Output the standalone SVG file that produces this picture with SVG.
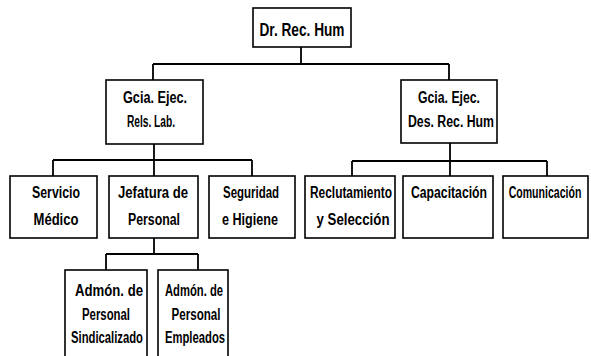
<svg xmlns="http://www.w3.org/2000/svg" width="591" height="356" viewBox="0 0 591 356">
<style>
.box{fill:#fff;stroke:#000;stroke-width:1.6}
.ln{fill:none;stroke:#000;stroke-width:1.8}
text{font-family:"Liberation Sans",Arial,sans-serif;font-weight:bold;font-size:16px;fill:#000;text-anchor:middle}
.big{font-size:18px}
</style>
<rect width="591" height="356" fill="#fff"/>
<g id="connectors">
<path class="ln" d="M301,47 V64 M153,64 H449 M153,64 V80 M449,64 V80"/>
<path class="ln" d="M154,144 V160 M53,160 H252 M53,160 V176 M154,160 V176 M252,160 V176"/>
<path class="ln" d="M450,143 V161 M352,161 H547 M352,161 V176 M450,161 V176 M547,161 V176"/>
<path class="ln" d="M154,238 V254 M106,254 H198 M106,254 V270 M198,254 V270"/>
</g>
<g id="dr-rec-hum">
<rect class="box" x="253" y="8" width="98" height="39"/>
<text class="big" x="302" y="36" textLength="85" lengthAdjust="spacingAndGlyphs">Dr. Rec. Hum</text>
</g>
<g id="gcia-rels-lab">
<rect class="box" x="106" y="80" width="97" height="64"/>
<text x="155" y="103" textLength="64" lengthAdjust="spacingAndGlyphs">Gcia. Ejec.</text>
<text x="151" y="127" textLength="48" lengthAdjust="spacingAndGlyphs">Rels. Lab.</text>
</g>
<g id="gcia-des-rec-hum">
<rect class="box" x="401" y="80" width="96" height="63"/>
<text x="449" y="103" textLength="62" lengthAdjust="spacingAndGlyphs">Gcia. Ejec.</text>
<text x="451" y="127" textLength="86" lengthAdjust="spacingAndGlyphs">Des. Rec. Hum</text>
</g>
<g id="servicio-medico">
<rect class="box" x="10" y="176" width="87" height="62"/>
<text x="56" y="198" textLength="48" lengthAdjust="spacingAndGlyphs">Servicio</text>
<text x="56" y="225" textLength="45" lengthAdjust="spacingAndGlyphs">Médico</text>
</g>
<g id="jefatura-personal">
<rect class="box" x="109" y="176" width="89" height="62"/>
<text x="153" y="198" textLength="70" lengthAdjust="spacingAndGlyphs">Jefatura de</text>
<text x="154" y="225" textLength="52" lengthAdjust="spacingAndGlyphs">Personal</text>
</g>
<g id="seguridad-higiene">
<rect class="box" x="209" y="176" width="86" height="62"/>
<text x="251" y="198" textLength="56" lengthAdjust="spacingAndGlyphs">Seguridad</text>
<text x="250" y="225" textLength="56" lengthAdjust="spacingAndGlyphs">e Higiene</text>
</g>
<g id="reclutamiento-seleccion">
<rect class="box" x="305" y="176" width="90" height="62"/>
<text x="351" y="198" textLength="82" lengthAdjust="spacingAndGlyphs">Reclutamiento</text>
<text x="353" y="225" textLength="73" lengthAdjust="spacingAndGlyphs">y Selección</text>
</g>
<g id="capacitacion">
<rect class="box" x="403" y="176" width="90" height="62"/>
<text x="449" y="198" textLength="76" lengthAdjust="spacingAndGlyphs">Capacitación</text>
</g>
<g id="comunicacion">
<rect class="box" x="503" y="176" width="85" height="62"/>
<text transform="translate(545,198) scale(0.66,1)" x="0" y="0">Comunicación</text>
</g>
<g id="admon-sindicalizado">
<rect class="box" x="65" y="270" width="82" height="95"/>
<text x="109" y="296" textLength="68" lengthAdjust="spacingAndGlyphs">Admón. de</text>
<text x="106" y="320" textLength="48" lengthAdjust="spacingAndGlyphs">Personal</text>
<text x="107" y="343" textLength="72" lengthAdjust="spacingAndGlyphs">Sindicalizado</text>
</g>
<g id="admon-empleados">
<rect class="box" x="158" y="270" width="70" height="95"/>
<text x="194" y="296" textLength="58" lengthAdjust="spacingAndGlyphs">Admón. de</text>
<text x="196" y="320" textLength="49" lengthAdjust="spacingAndGlyphs">Personal</text>
<text x="195" y="343" textLength="60" lengthAdjust="spacingAndGlyphs">Empleados</text>
</g>
</svg>
